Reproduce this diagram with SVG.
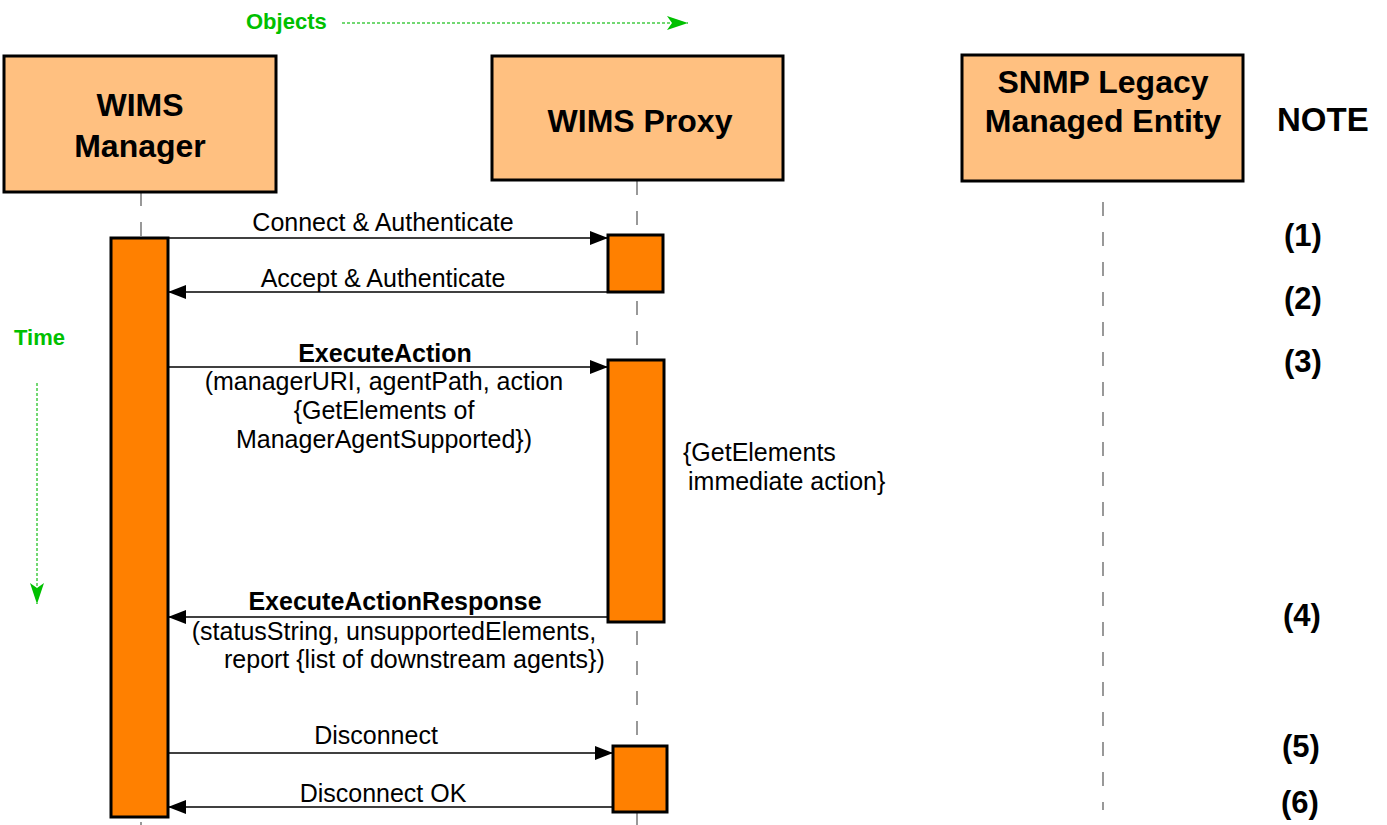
<svg xmlns="http://www.w3.org/2000/svg" width="1387" height="825" viewBox="0 0 1387 825">
  <style>
    .obj { fill: #ffc080; stroke: #000; stroke-width: 3; }
    .act { fill: #ff8000; stroke: #000; stroke-width: 3; }
    .life { stroke: #555; stroke-width: 1.2; stroke-dasharray: 14 16; fill: none; }
    .msg { stroke: #000; stroke-width: 1.5; fill: none; }
    .guide { stroke: #44cc44; stroke-width: 1.5; stroke-dasharray: 3 2; fill: none; }
    .title { font-family: "Liberation Sans", Arial, sans-serif; font-weight: bold; font-size: 32px; fill: #000; text-anchor: middle; }
    .lbl { font-family: "Liberation Sans", Arial, sans-serif; font-size: 25px; fill: #000; }
    .lblb { font-family: "Liberation Sans", Arial, sans-serif; font-size: 25px; font-weight: bold; fill: #000; }
    .mid { text-anchor: middle; }
    .note { font-family: "Liberation Sans", Arial, sans-serif; font-weight: bold; font-size: 31px; fill: #000; }
    .head { font-size: 33px; }
    .green { font-family: "Liberation Sans", Arial, sans-serif; font-weight: bold; font-size: 22px; fill: #00c000; }
  </style>
  <defs>
    <marker id="tri" markerUnits="userSpaceOnUse" markerWidth="18" markerHeight="14" refX="18" refY="7" orient="auto">
      <path d="M0,0 L18,7 L0,14 z" fill="#000"/>
    </marker>
    <marker id="stealth" markerUnits="userSpaceOnUse" markerWidth="22" markerHeight="14" refX="21" refY="7" orient="auto">
      <path d="M0,0 L21,7 L0,14 L5,7 z" fill="#00c000"/>
    </marker>
  </defs>

  <rect width="1387" height="825" fill="#fff"/>

  <!-- axis hints -->
  <g id="axis-objects">
    <text class="green" x="246" y="29">Objects</text>
    <line class="guide" x1="342" y1="23" x2="688" y2="23" marker-end="url(#stealth)"/>
  </g>
  <g id="axis-time">
    <text class="green" x="14" y="345">Time</text>
    <line class="guide" x1="37" y1="383" x2="37" y2="604" marker-end="url(#stealth)"/>
  </g>

  <!-- lifelines -->
  <g id="lifelines">
    <line class="life" x1="141" y1="192" x2="141" y2="825"/>
    <line class="life" x1="637" y1="181" x2="637" y2="825"/>
    <line class="life" x1="1103" y1="202" x2="1103" y2="810"/>
  </g>

  <!-- objects -->
  <g id="wims-manager">
    <rect class="obj" x="4" y="56" width="272" height="136"/>
    <text class="title" x="140" y="116">WIMS</text>
    <text class="title" x="140" y="157">Manager</text>
    <rect class="act" x="111" y="238" width="57" height="579"/>
  </g>
  <g id="wims-proxy">
    <rect class="obj" x="492" y="56" width="291" height="124"/>
    <text class="title" x="640" y="132">WIMS Proxy</text>
    <rect class="act" x="608" y="235" width="55" height="57"/>
    <rect class="act" x="608" y="360" width="56" height="262"/>
    <rect class="act" x="613" y="746" width="54" height="66"/>
  </g>
  <g id="snmp-entity">
    <rect class="obj" x="962" y="55" width="281" height="126"/>
    <text class="title" x="1103" y="93">SNMP Legacy</text>
    <text class="title" x="1103" y="132">Managed Entity</text>
  </g>

  <!-- messages -->
  <g id="connectors">
    <line class="msg" x1="168" y1="238" x2="608" y2="238" marker-end="url(#tri)"/>
    <line class="msg" x1="608" y1="292" x2="168" y2="292" marker-end="url(#tri)"/>
    <line class="msg" x1="168" y1="367" x2="608" y2="367" marker-end="url(#tri)"/>
    <line class="msg" x1="608" y1="617" x2="168" y2="617" marker-end="url(#tri)"/>
    <line class="msg" x1="168" y1="753" x2="613" y2="753" marker-end="url(#tri)"/>
    <line class="msg" x1="613" y1="807" x2="168" y2="807" marker-end="url(#tri)"/>
  </g>

  <g id="message-labels">
    <text class="lbl mid" x="383" y="231">Connect &amp; Authenticate</text>
    <text class="lbl mid" x="383" y="287">Accept &amp; Authenticate</text>
    <text class="lblb mid" x="385" y="362">ExecuteAction</text>
    <text class="lbl mid" x="384" y="390">(managerURI, agentPath, action</text>
    <text class="lbl mid" x="384" y="419">{GetElements of</text>
    <text class="lbl mid" x="384" y="448">ManagerAgentSupported})</text>
    <text class="lblb mid" x="395" y="610">ExecuteActionResponse</text>
    <text class="lbl mid" x="394" y="640">(statusString, unsupportedElements,</text>
    <text class="lbl" x="224" y="668">report {list of downstream agents})</text>
    <text class="lbl mid" x="376" y="744">Disconnect</text>
    <text class="lbl mid" x="383" y="802">Disconnect OK</text>
    <text class="lbl" x="683" y="461">{GetElements</text>
    <text class="lbl" x="688" y="490">immediate action}</text>
  </g>

  <!-- notes column -->
  <g id="notes">
    <text class="note head" x="1277" y="131">NOTE</text>
    <text class="note" x="1284" y="246">(1)</text>
    <text class="note" x="1284" y="309">(2)</text>
    <text class="note" x="1284" y="372">(3)</text>
    <text class="note" x="1283" y="626">(4)</text>
    <text class="note" x="1282" y="757">(5)</text>
    <text class="note" x="1281" y="813">(6)</text>
  </g>
</svg>
